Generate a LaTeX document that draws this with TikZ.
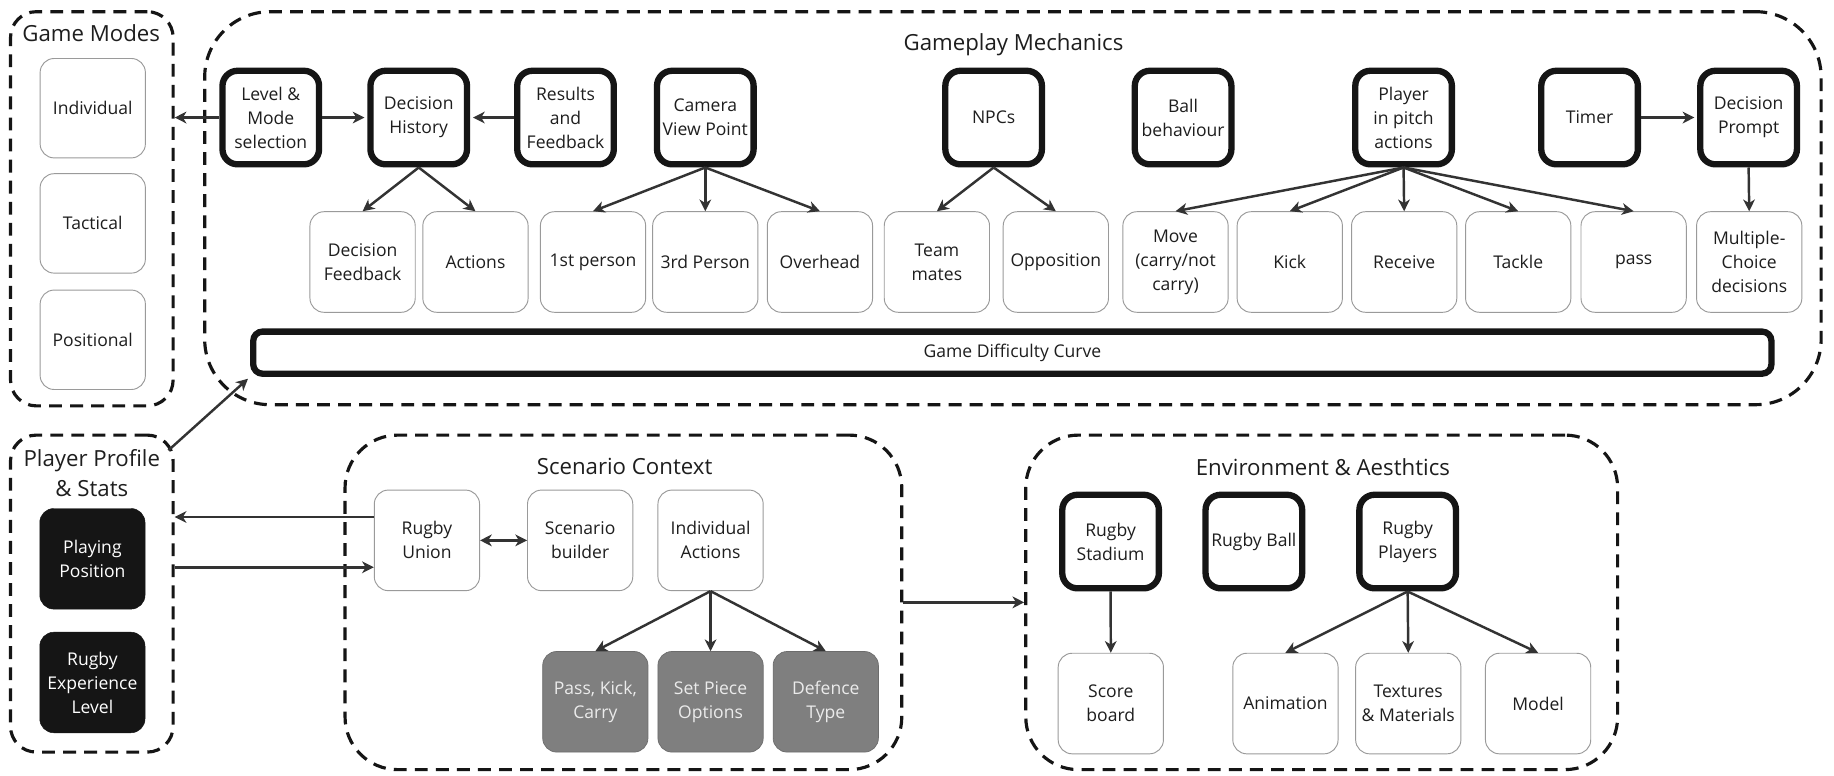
\documentclass[tikz,border=0pt]{standalone}
\usepackage{fontspec}
\setmainfont{Open Sans}
\usetikzlibrary{arrows.meta,calc}

\definecolor{ink}{HTML}{1E1E1E}
\definecolor{edge}{HTML}{333333}
\definecolor{thinline}{HTML}{9A9A9A}
\definecolor{boxblack}{HTML}{151515}
\definecolor{boxgray}{HTML}{7F7F7F}

\tikzset{
  every node/.style={font=\fontsize{15}{20.5}\selectfont, text=ink, align=center},
  plainbox/.style={draw=thinline, line width=0.8pt, rounded corners=12pt,
    minimum width=90pt, minimum height=86pt, inner sep=1pt},
  boldbox/.style={draw=boxblack, line width=5.4pt, rounded corners=13pt,
    minimum width=82.6pt, minimum height=80pt, inner sep=1pt},
  darkbox/.style={fill=boxblack, draw=boxblack, rounded corners=12pt,
    minimum width=90pt, minimum height=86pt, inner sep=1pt, text=white},
  graybox/.style={fill=boxgray, draw=boxgray!85!black, line width=0.6pt, rounded corners=12pt,
    minimum width=90pt, minimum height=86pt, inner sep=1pt, text=white!92!black},
  group/.style={draw=boxblack, line width=2.7pt, dash pattern=on 11pt off 7pt},
  grouptitle/.style={font=\fontsize{19}{25}\selectfont},
  arr/.style={draw=edge, line width=2.1pt, -{Stealth[length=10pt,width=10pt,inset=3pt]}},
  twoway/.style={draw=edge, line width=2.1pt,
    {Stealth[length=10pt,width=10pt,inset=3pt]}-{Stealth[length=10pt,width=10pt,inset=3pt]}},
  toBold/.style={shorten >=2.4pt},
}

\begin{document}
\begin{tikzpicture}[x=1pt, y=-1pt]
\fill[white] (0,0) rectangle (1568,663);
\useasboundingbox (0,0) rectangle (1568,663);

% ---------- group frames ----------
\node[group, rounded corners=22pt, minimum width=139pt, minimum height=337pt] (gm) at (78.5,178.5) {};
\node[group, rounded corners=56pt, minimum width=1382pt, minimum height=336pt] (gp) at (866,178) {};
\node[group, rounded corners=22pt, minimum width=139pt, minimum height=271pt] (pp) at (78.5,507.5) {};
\node[group, rounded corners=45pt, minimum width=476pt, minimum height=286pt] (sc) at (533,515) {};
\node[group, rounded corners=45pt, minimum width=506pt, minimum height=286pt] (env) at (1130,515) {};

% ---------- group titles ----------
\node[grouptitle] (gmt) at (78,28.5) {Game Modes};
\node[grouptitle] (gpt) at (866.5,38.5) {Gameplay Mechanics};
\node[grouptitle] (ppt) at (78.5,404.5) {Player Profile\\\& Stats};
\node[grouptitle] (sct) at (534,399) {Scenario Context};
\node[grouptitle] (envt) at (1131,399) {Environment \& Aesthtics};

% ---------- game modes ----------
\node[plainbox, minimum height=85pt] (ind) at (79.3,92.5) {Individual};
\node[plainbox, minimum height=85pt] (tac) at (79.3,191) {Tactical};
\node[plainbox, minimum height=85pt] (pos) at (79.3,290.5) {Positional};

% ---------- gameplay mechanics: top row ----------
\node[boldbox] (lvl) at (231.5,100.5) {Level \&\\Mode\\selection};
\node[boldbox] (dh) at (358,100.5) {Decision\\History};
\node[boldbox] (rf) at (483.5,100.5) {Results\\and\\Feedback};
\node[boldbox] (cam) at (603,100.5) {Camera\\View Point};
\node[boldbox] (npc) at (849.5,100.5) {NPCs};
\node[boldbox] (ball) at (1011.5,100.5) {Ball\\behaviour};
\node[boldbox] (pip) at (1200,100.5) {Player\\in pitch\\actions};
\node[boldbox] (timer) at (1359,100.5) {Timer};
\node[boldbox] (dp) at (1495,100.5) {Decision\\Prompt};

% ---------- gameplay mechanics: second row ----------
\node[plainbox] (dfb) at (310,224) {Decision\\Feedback};
\node[plainbox] (act) at (406.5,224) {Actions};
\node[plainbox] (p1) at (507,224) {1st person};
\node[plainbox] (p3) at (603,224) {3rd Person};
\node[plainbox] (ovh) at (701,224) {Overhead};
\node[plainbox] (tm) at (801,224) {Team\\mates};
\node[plainbox] (opp) at (902.7,224) {Opposition};
\node[plainbox] (move) at (1005,224) {Move\\(carry/not\\carry)};
\node[plainbox] (kick) at (1102.7,224) {Kick};
\node[plainbox] (recv) at (1200.5,224) {Receive};
\node[plainbox] (tack) at (1298,224) {Tackle};
\node[plainbox] (pass) at (1396.7,224) {pass};
\node[plainbox] (mcd) at (1495.5,224) {Multiple-\\Choice\\decisions};

\node[boldbox, rounded corners=8pt, minimum width=1298pt, minimum height=36pt] (gdc) at (865.5,301.5) {Game Difficulty Curve};

% ---------- player profile ----------
\node[darkbox] (ppos) at (79,477.75) {Playing\\Position};
\node[darkbox] (rel) at (79,583.5) {Rugby\\Experience\\Level};

% ---------- scenario context ----------
\node[plainbox] (union) at (365,462) {Rugby\\Union};
\node[plainbox] (sbld) at (496,462) {Scenario\\builder};
\node[plainbox] (ia) at (607.5,462) {Individual\\Actions};
\node[graybox] (pkc) at (509,600) {Pass, Kick,\\Carry};
\node[graybox] (spo) at (607.5,600) {Set Piece\\Options};
\node[graybox] (dt) at (706,600) {Defence\\Type};

% ---------- environment ----------
\node[boldbox] (rs) at (949.5,463) {Rugby\\Stadium};
\node[boldbox] (rb) at (1072,463) {Rugby Ball};
\node[boldbox] (rp) at (1203.5,463) {Rugby\\Players};
\node[plainbox] (score) at (949.7,601.5) {Score\\board};
\node[plainbox] (anim) at (1099,601.5) {Animation};
\node[plainbox] (tex) at (1204,601.5) {Textures\\\& Materials};
\node[plainbox] (model) at (1315,601.5) {Model};

% ---------- connectors ----------
\draw[arr] (lvl.west) -- (lvl.west -| gm.east);
\draw[arr, toBold] (lvl) -- (dh);
\draw[arr, toBold] (rf) -- (dh);
\draw[arr] (dh.south) -- (dfb.north);
\draw[arr] (dh.south) -- (act.north);
\foreach \c in {p1,p3,ovh} \draw[arr] (cam.south) -- (\c.north);
\foreach \c in {tm,opp} \draw[arr] (npc.south) -- (\c.north);
\foreach \c in {move,kick,recv,tack,pass} \draw[arr] (pip.south) -- (\c.north);
\draw[arr, toBold] (timer) -- (dp);
\draw[arr] (dp.south) -- (mcd.north);

\coordinate (ppcorner) at (144,385);
\draw[arr, toBold] (ppcorner) -- (gdc.south west);

\draw[arr] ([yshift=20pt]union.west) -- ([yshift=20pt]union.west -| pp.east);
\draw[arr] ([yshift=-23pt]union.west -| pp.east) -- ([yshift=-23pt]union.west);
\draw[twoway] (union) -- (sbld);
\foreach \c in {pkc,spo,dt} \draw[arr] (ia.south) -- (\c.north);

\draw[arr] (sc.east) -- (env.west);

\draw[arr] (rs.south) -- (score.north);
\foreach \c in {anim,tex,model} \draw[arr] (rp.south) -- (\c.north);
\end{tikzpicture}
\end{document}
